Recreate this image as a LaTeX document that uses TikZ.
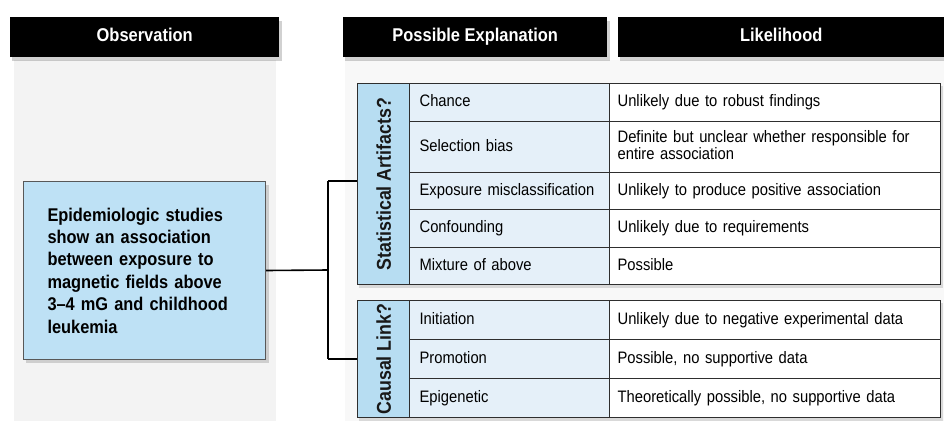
\documentclass[tikz,border=0pt]{standalone}
\usepackage{fontspec}
\setmainfont{Liberation Sans}
\newfontfamily\cond[FakeStretch=0.89,Ligatures=TeX]{Liberation Sans}
\definecolor{linec}{HTML}{2E2E2E}
\definecolor{catblue}{HTML}{B7DDF2}
\definecolor{obsblue}{HTML}{BEE1F5}
\definecolor{explc}{HTML}{E5F0F9}
\definecolor{panel}{HTML}{F3F3F3}
\begin{document}
\begin{tikzpicture}[x=1pt,y=-1pt,
  header/.style={fill=black, text=white, anchor=north west, inner sep=0pt,
    minimum height=40pt, text height=13pt, text depth=4pt, font=\cond\bfseries\fontsize{18.5}{20}\selectfont},
  shade box/.style={fill=black, opacity=0.18, draw=none},
  cat/.style={draw=linec, line width=1.2pt, fill=catblue, anchor=north west, inner sep=0pt, minimum width=52pt},
  catlabel/.style={rotate=90, font=\cond\bfseries\fontsize{20}{20}\selectfont, text=black!90},
  cellbase/.style={draw=linec, line width=1.2pt, anchor=north west, inner ysep=0pt,
    align=left, font=\cond\fontsize{16.6}{17}\selectfont, text height=12pt, text depth=3.5pt},
  twoline/.style={text depth=20.5pt},
  expcell/.style={cellbase, fill=explc, inner xsep=10pt, text width=180pt},
  likcell/.style={cellbase, fill=white, inner xsep=8pt, text width=315pt},
  conn/.style={draw=black, line width=1.6pt}
]
\useasboundingbox (0,0) rectangle (944,423);
\fill[white] (0,0) rectangle (944,423);
% background panels
\fill[panel] (14,60) rectangle (276,421);
\fill[panel!60] (345,60) rectangle (944,421);
% header shadows
\fill[shade box] (12,21) rectangle (282,61);
\fill[shade box] (345,21) rectangle (610,61);
\fill[shade box] (620,21) rectangle (944,61);
% headers
\node[header, minimum width=269pt] (hobs) at (10,17) {Observation};
\node[header, minimum width=264pt] (hexp) at (343,17) {Possible Explanation};
\node[header, minimum width=326pt] (hlik) at (618,17) {Likelihood};
% observation box
\fill[shade box, opacity=0.15] (26,185) rectangle (269,363);
\node[draw=linec!80, line width=1pt, fill=obsblue, anchor=north west, minimum width=242pt, minimum height=178pt,
  inner xsep=24pt, text width=194pt, align=left, font=\cond\bfseries\fontsize{18.4}{22.4}\selectfont] (obs) at (23,181)
  {Epidemiologic studies\\ show an association\\ between exposure to\\ magnetic fields above\\ 3–4 mG and childhood\\ leukemia};
% table shadows
\fill[shade box, opacity=0.12] (359,86) rectangle (943,288);
\fill[shade box, opacity=0.12] (359,303) rectangle (943,421);
% table 1
\node[cat, minimum height=201pt] (cat1) at (357,83) {};
\node[catlabel] (cat1l) at (cat1.center) {Statistical Artifacts?};
\node[expcell, minimum height=38pt] (e11) at (409,83) {Chance};
\node[expcell, minimum height=51pt] (e12) at (409,121) {Selection bias};
\node[expcell, minimum height=37pt] (e13) at (409,172) {Exposure misclassification};
\node[expcell, minimum height=38pt] (e14) at (409,209) {Confounding};
\node[expcell, minimum height=37pt] (e15) at (409,247) {Mixture of above};
\node[likcell, minimum height=38pt] (l11) at (609,83) {Unlikely due to robust findings};
\node[likcell, twoline, minimum height=51pt] (l12) at (609,121) {Definite but unclear whether responsible for\\ entire association};
\node[likcell, minimum height=37pt] (l13) at (609,172) {Unlikely to produce positive association};
\node[likcell, minimum height=38pt] (l14) at (609,209) {Unlikely due to requirements};
\node[likcell, minimum height=37pt] (l15) at (609,247) {Possible};
% table 2
\node[cat, minimum height=117pt] (cat2) at (357,300) {};
\node[catlabel] (cat2l) at (cat2.center) {Causal Link?};
\node[expcell, minimum height=39pt] (e21) at (409,300) {Initiation};
\node[expcell, minimum height=39pt] (e22) at (409,339) {Promotion};
\node[expcell, minimum height=39pt] (e23) at (409,378) {Epigenetic};
\node[likcell, minimum height=39pt] (l21) at (609,300) {Unlikely due to negative experimental data};
\node[likcell, minimum height=39pt] (l22) at (609,339) {Possible, no supportive data};
\node[likcell, minimum height=39pt] (l23) at (609,378) {Theoretically possible, no supportive data};
% connectors
\coordinate (j) at (328,270);
\coordinate (jt) at (328,181);
\coordinate (jb) at (328,359);
\draw[conn] (obs.east) -- (j);
\draw[conn] (jt) -- (jb);
\draw[conn] (jt) -- (jt -| cat1.west);
\draw[conn] (jb) -- (jb -| cat2.west);
\end{tikzpicture}
\end{document}
